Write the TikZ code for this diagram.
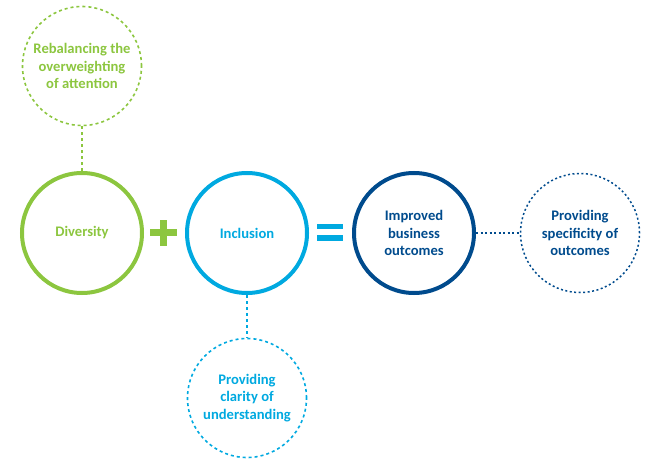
\documentclass[tikz,border=0pt]{standalone}
\usepackage{fontspec}
\setmainfont{Carlito}
\definecolor{dgreen}{RGB}{140,198,63}
\definecolor{lblue}{RGB}{0,169,224}
\definecolor{dblue}{RGB}{0,75,141}
\begin{document}
\begin{tikzpicture}[x=1bp,y=-1bp,
  txt/.style={font=\fontsize{14.6bp}{17.5bp}\selectfont\bfseries, align=center},
  maincirc/.style={circle, draw, line width=4bp, minimum size=120bp, inner sep=0pt, txt},
  sidecirc/.style={circle, draw, line width=1.6bp, minimum size=119bp, inner sep=0pt, txt},
  dashlink/.style={line width=1.6bp, dash pattern=on 3bp off 3bp},
  dotlink/.style={line width=1.5bp, dash pattern=on 2bp off 2.5bp}]
\useasboundingbox (0,0) rectangle (648,460);
% main row
\node[maincirc, draw=dgreen, text=dgreen] (div) at (82,233) {Diversity};
\node[maincirc, draw=lblue, text=lblue] (inc) at (247,233) {Inclusion};
\node[maincirc, draw=dblue, text=dblue] (out) at (414,233) {Improved\\business\\outcomes};
% side circles
\node[sidecirc, draw=dgreen, text=dgreen, dash pattern=on 3bp off 3bp] (reb) at (82,66) {Rebalancing the\\overweighting\\of attention};
\node[sidecirc, draw=lblue, text=lblue, dash pattern=on 3bp off 3bp] (cla) at (247,398) {Providing\\clarity of\\understanding};
\node[sidecirc, draw=dblue, text=dblue, line width=1.5bp, dash pattern=on 2bp off 2.5bp] (spe) at (580,233) {Providing\\specificity of\\outcomes};
% links
\draw[dashlink, dgreen] (reb) -- (div);
\draw[dashlink, lblue] (inc) -- (cla);
\draw[dotlink, dblue] (out) -- (spe);
% operators
\node[inner sep=0pt, minimum size=0pt] (plus) at (163,233) {};
\fill[dgreen] ([xshift=-13.5bp,yshift=-3.5bp]plus.center) rectangle ([xshift=13.5bp,yshift=3.5bp]plus.center);
\fill[dgreen] ([xshift=-3.5bp,yshift=-13bp]plus.center) rectangle ([xshift=3.5bp,yshift=13bp]plus.center);
\node[inner sep=0pt, minimum size=0pt] (eq) at (330,232.5) {};
\fill[lblue] ([xshift=-13bp,yshift=-8.5bp]eq.center) rectangle ([xshift=13bp,yshift=-3bp]eq.center);
\fill[lblue] ([xshift=-13bp,yshift=3bp]eq.center) rectangle ([xshift=13bp,yshift=8.5bp]eq.center);
\end{tikzpicture}
\end{document}
